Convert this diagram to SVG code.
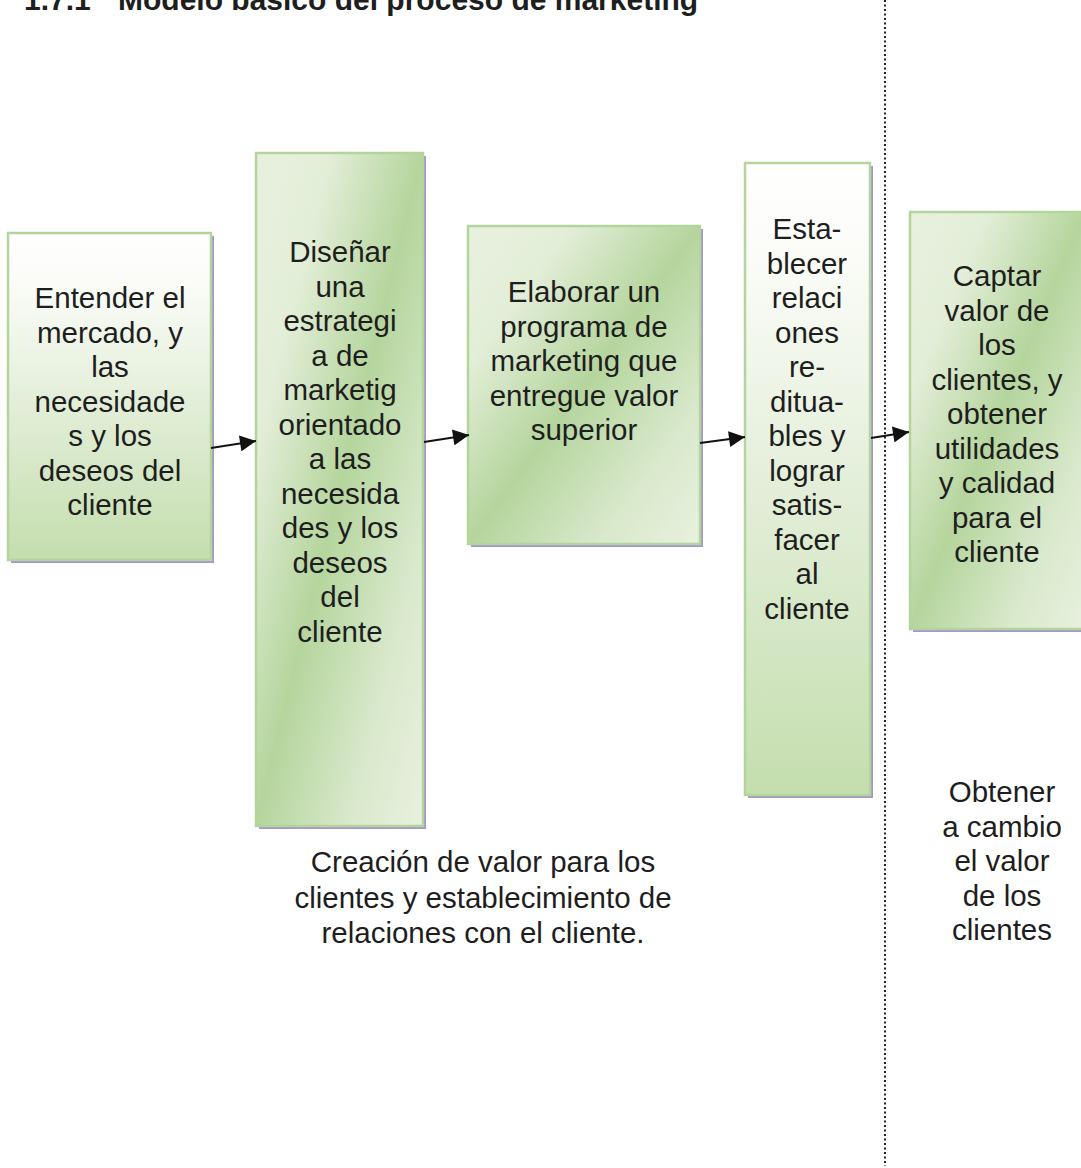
<svg xmlns="http://www.w3.org/2000/svg" width="1081" height="1168" viewBox="0 0 1081 1168">
<style>
text{font-family:"Liberation Sans",Arial,sans-serif;fill:#1e1e1e}
.t{font-size:29.5px;text-anchor:middle}
.title{font-size:30px;font-weight:bold}
.box{stroke:#b3d59b;stroke-width:2.5}
.sh{fill:#a497c9}
.conn line{stroke:#111;stroke-width:2}
</style>
<defs>
<linearGradient id="gv" x1="0" y1="0" x2="0" y2="1">
<stop offset="0" stop-color="#ffffff"/>
<stop offset="0.15" stop-color="#fbfcf8"/>
<stop offset="0.5" stop-color="#e4efda"/>
<stop offset="1" stop-color="#c4deae"/>
</linearGradient>
<linearGradient id="gd" x1="0" y1="0" x2="1" y2="1">
<stop offset="0" stop-color="#e8f1df"/>
<stop offset="0.22" stop-color="#e3eed8"/>
<stop offset="0.5" stop-color="#b5d59d"/>
<stop offset="0.78" stop-color="#d9e9cc"/>
<stop offset="1" stop-color="#e8f1df"/>
</linearGradient>
<marker id="ah" viewBox="0 0 10 10" refX="10" refY="5" markerWidth="8.5" markerHeight="8" markerUnits="strokeWidth" orient="auto">
<path d="M0,0 L10,5 L0,10 z" fill="#111"/>
</marker>
</defs>
<rect width="1081" height="1168" fill="#ffffff"/>
<g id="title">
<text class="title" x="24" y="10">1.7.1</text>
<text class="title" x="118" y="10">Modelo básico del proceso de marketing</text>
</g>
<line x1="885" y1="0" x2="885" y2="1166" stroke="#222" stroke-width="2" stroke-dasharray="2,2.5"/>

<g id="n1">
<rect class="sh" x="11" y="236" width="203" height="327"/>
<rect class="box" x="8" y="233" width="203" height="327" fill="url(#gv)"/>
<text class="t" x="110"><tspan x="110" y="308">Entender el</tspan><tspan x="110" y="342.5">mercado, y</tspan><tspan x="110" y="377">las</tspan><tspan x="110" y="411.5">necesidade</tspan><tspan x="110" y="446">s y los</tspan><tspan x="110" y="480.5">deseos del</tspan><tspan x="110" y="515">cliente</tspan></text>
</g>

<g id="n2">
<rect class="sh" x="259" y="156" width="167" height="673"/>
<rect class="box" x="256" y="153" width="167" height="673" fill="url(#gd)"/>
<text class="t" x="340"><tspan x="340" y="262">Diseñar</tspan><tspan x="340" y="296.5">una</tspan><tspan x="340" y="331">estrategi</tspan><tspan x="340" y="365.5">a de</tspan><tspan x="340" y="400">marketig</tspan><tspan x="340" y="434.5">orientado</tspan><tspan x="340" y="469">a las</tspan><tspan x="340" y="503.5">necesida</tspan><tspan x="340" y="538">des y los</tspan><tspan x="340" y="572.5">deseos</tspan><tspan x="340" y="607">del</tspan><tspan x="340" y="641.5">cliente</tspan></text>
</g>

<g id="n3">
<rect class="sh" x="471" y="229" width="232" height="318"/>
<rect class="box" x="468" y="226" width="232" height="318" fill="url(#gd)"/>
<text class="t" x="584"><tspan x="584" y="302">Elaborar un</tspan><tspan x="584" y="336.5">programa de</tspan><tspan x="584" y="371">marketing que</tspan><tspan x="584" y="405.5">entregue valor</tspan><tspan x="584" y="440">superior</tspan></text>
</g>

<g id="n4">
<rect class="sh" x="748" y="166" width="125" height="632"/>
<rect class="box" x="745" y="163" width="125" height="632" fill="url(#gv)"/>
<text class="t" x="807"><tspan x="807" y="239">Esta-</tspan><tspan x="807" y="273.5">blecer</tspan><tspan x="807" y="308">relaci</tspan><tspan x="807" y="342.5">ones</tspan><tspan x="807" y="377">re-</tspan><tspan x="807" y="411.5">ditua-</tspan><tspan x="807" y="446">bles y</tspan><tspan x="807" y="480.5">lograr</tspan><tspan x="807" y="515">satis-</tspan><tspan x="807" y="549.5">facer</tspan><tspan x="807" y="584">al</tspan><tspan x="807" y="618.5">cliente</tspan></text>
</g>

<g id="n5">
<rect class="sh" x="913" y="215" width="175" height="417"/>
<rect class="box" x="910" y="212" width="175" height="417" fill="url(#gd)"/>
<text class="t" x="997"><tspan x="997" y="286">Captar</tspan><tspan x="997" y="320.5">valor de</tspan><tspan x="997" y="355">los</tspan><tspan x="997" y="389.5">clientes, y</tspan><tspan x="997" y="424">obtener</tspan><tspan x="997" y="458.5">utilidades</tspan><tspan x="997" y="493">y calidad</tspan><tspan x="997" y="527.5">para el</tspan><tspan x="997" y="562">cliente</tspan></text>
</g>

<g id="lbl-creacion">
<text class="t" x="483"><tspan x="483" y="872">Creación de valor para los</tspan><tspan x="483" y="907.5">clientes y establecimiento de</tspan><tspan x="483" y="943">relaciones con el cliente.</tspan></text>
</g>

<g id="lbl-obtener">
<text class="t" x="1002"><tspan x="1002" y="802">Obtener</tspan><tspan x="1002" y="836.5">a cambio</tspan><tspan x="1002" y="871">el valor</tspan><tspan x="1002" y="905.5">de los</tspan><tspan x="1002" y="940">clientes</tspan></text>
</g>

<g id="connectors" class="conn">
<line x1="211" y1="448" x2="256" y2="441" marker-end="url(#ah)"/>
<line x1="424" y1="442" x2="469" y2="435" marker-end="url(#ah)"/>
<line x1="700" y1="443" x2="745" y2="437" marker-end="url(#ah)"/>
<line x1="871" y1="438" x2="909" y2="432" marker-end="url(#ah)"/>
</g>
</svg>
